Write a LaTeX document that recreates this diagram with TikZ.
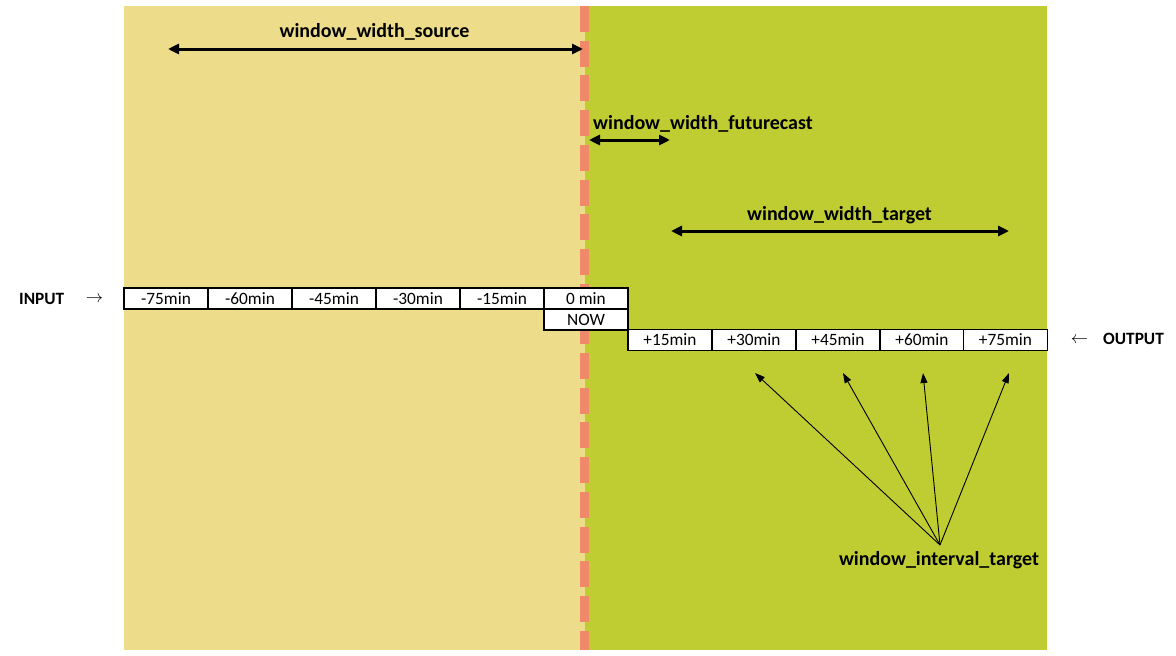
\documentclass[tikz,border=0pt]{standalone}
\usepackage{fontspec}
\setmainfont{Carlito}
\usetikzlibrary{arrows.meta}
\definecolor{sand}{RGB}{237,220,138}
\definecolor{lime}{RGB}{191,205,50}
\definecolor{salmon}{RGB}{240,136,106}
\begin{document}
\begin{tikzpicture}[x=1pt,y=-1pt,
  cell/.style={draw=black, line width=1.2pt, fill=white, minimum width=84pt, minimum height=21pt, inner sep=0pt, font=\fontsize{17.3}{20}\selectfont},
  lbl/.style={font=\bfseries\fontsize{20}{24}\selectfont, anchor=base, inner sep=0pt},
  side/.style={font=\bfseries\fontsize{17.3}{20}\selectfont, anchor=base west, inner sep=0pt},
  sym/.style={font=\fontsize{17.3}{20}\selectfont, anchor=base, inner sep=0pt},
  wide/.style={{Triangle[length=11pt,width=10pt]}-{Triangle[length=11pt,width=10pt]}, line width=3pt},
  thinarr/.style={-{Triangle[length=10pt,width=7pt]}, line width=0.9pt}]
\useasboundingbox (0,0) rectangle (1176,656);
\fill[white] (0,0) rectangle (1176,656);
\fill[sand] (124,6) rectangle (584.5,650);
\fill[lime] (584.5,6) rectangle (1047,650);
\draw[salmon, line width=9pt, dash pattern=on 26pt off 8.7pt] (584.5,6) -- (584.5,650);

% input row
\node[cell] (m75) at (166,298.5) {-75min};
\node[cell] (m60) at (250,298.5) {-60min};
\node[cell] (m45) at (334,298.5) {-45min};
\node[cell] (m30) at (418,298.5) {-30min};
\node[cell] (m15) at (502,298.5) {-15min};
\node[cell] (z0) at (586,298.5) {0 min};
\node[cell] (now) at (586,319.5) {NOW};
% output row
\node[cell] (p15) at (670,340) {+15min};
\node[cell] (p30) at (754,340) {+30min};
\node[cell] (p45) at (838,340) {+45min};
\node[cell] (p60) at (922,340) {+60min};
\node[cell] (p75) at (1005.5,340) {+75min};

% side labels
\node[side] (inp) at (19,304) {INPUT};
\node[sym] (inarr) at (94.5,302.5) {$\rightarrow$};
\node[sym] (outarr) at (1079.5,343.5) {$\leftarrow$};
\node[side] (outp) at (1103,344) {OUTPUT};

% labels
\node[lbl] (src) at (374.5,37.5) {window\_width\_source};
\node[lbl, anchor=base west] (fut) at (593,129) {window\_width\_futurecast};
\node[lbl] (tgt) at (839.5,220) {window\_width\_target};
\node[lbl] (itv) at (939,565) {window\_interval\_target};

% width arrows
\coordinate (srcL) at (168,49);
\coordinate (srcR) at (583,49);
\coordinate (futL) at (589,140);
\coordinate (futR) at (670,140);
\coordinate (tgtL) at (671,231);
\coordinate (tgtR) at (1009,231);
\draw[wide] (srcL) -- (srcR);
\draw[wide] (futL) -- (futR);
\draw[wide] (tgtL) -- (tgtR);

% interval arrows
\coordinate (hub) at (940,545);
\coordinate (t1) at (755,373);
\coordinate (t2) at (843,373);
\coordinate (t3) at (923,373);
\coordinate (t4) at (1009,373);
\foreach \t in {t1,t2,t3,t4} \draw[thinarr] (hub) -- (\t);
\end{tikzpicture}
\end{document}
